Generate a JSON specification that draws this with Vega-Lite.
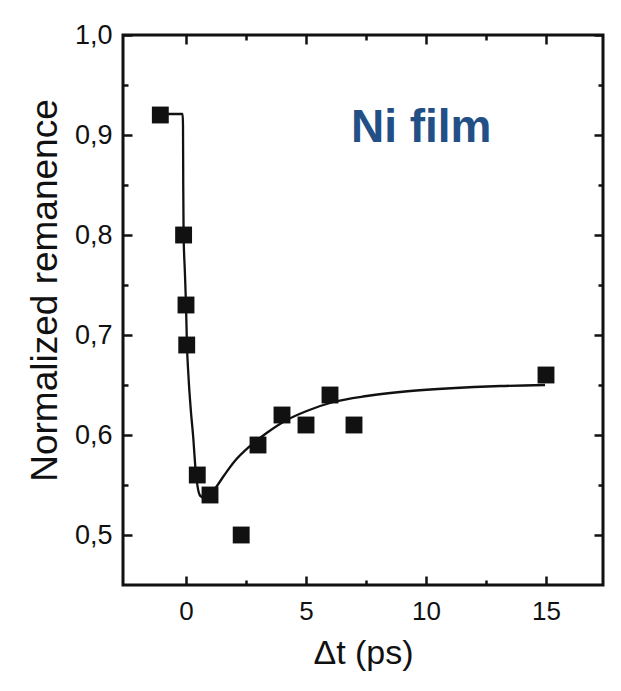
{
  "$schema": "https://vega.github.io/schema/vega-lite/v6.json",
  "width": 480,
  "height": 550,
  "autosize": {"type": "none"},
  "padding": {"left": 123, "top": 35, "right": 18, "bottom": 106},
  "background": "white",
  "config": {
    "view": {"stroke": "#111111", "strokeWidth": 3},
    "font": "Liberation Sans",
    "axis": {
      "grid": false,
      "domain": false,
      "tickColor": "#111111",
      "tickWidth": 2.5,
      "labelFont": "Liberation Sans",
      "titleFont": "Liberation Sans",
      "labelColor": "#111111",
      "titleColor": "#111111",
      "titleFontWeight": "normal"
    }
  },
  "datasets": {
    "curve": [
      {"t": -1.07, "r": 0.921},
      {"t": -0.14, "r": 0.921},
      {"t": -0.125, "r": 0.91},
      {"t": -0.115, "r": 0.85},
      {"t": -0.1, "r": 0.8},
      {"t": -0.05, "r": 0.765},
      {"t": 0.0, "r": 0.73},
      {"t": 0.04, "r": 0.69},
      {"t": 0.1, "r": 0.66},
      {"t": 0.2, "r": 0.625},
      {"t": 0.3, "r": 0.598},
      {"t": 0.4, "r": 0.565},
      {"t": 0.5, "r": 0.546},
      {"t": 0.6, "r": 0.539},
      {"t": 0.8, "r": 0.537},
      {"t": 1.0, "r": 0.54},
      {"t": 1.2, "r": 0.546},
      {"t": 1.6, "r": 0.56},
      {"t": 2.0, "r": 0.573},
      {"t": 2.67, "r": 0.589},
      {"t": 3.36, "r": 0.602},
      {"t": 4.2, "r": 0.615},
      {"t": 5.03, "r": 0.624},
      {"t": 6.14, "r": 0.633},
      {"t": 7.53, "r": 0.639},
      {"t": 8.92, "r": 0.643},
      {"t": 10.5, "r": 0.646},
      {"t": 12.0, "r": 0.648},
      {"t": 13.1, "r": 0.649},
      {"t": 14.96, "r": 0.65}
    ],
    "points": [
      {"t": -1.07, "r": 0.92},
      {"t": -0.1, "r": 0.8},
      {"t": 0.0, "r": 0.73},
      {"t": 0.03, "r": 0.69},
      {"t": 0.47, "r": 0.56},
      {"t": 1.0, "r": 0.54},
      {"t": 2.3, "r": 0.5},
      {"t": 3.0, "r": 0.59},
      {"t": 4.0, "r": 0.62},
      {"t": 5.0, "r": 0.61},
      {"t": 6.0, "r": 0.64},
      {"t": 7.0, "r": 0.61},
      {"t": 15.0, "r": 0.66}
    ],
    "label": [
      {"t": 9.8, "r": 0.893, "text": "Ni film"}
    ]
  },
  "resolve": {"axis": {"x": "independent", "y": "independent"}},
  "layer": [
    {
      "data": {"name": "curve"},
      "mark": {"type": "line", "color": "#111111", "strokeWidth": 2.3, "interpolate": "monotone"},
      "encoding": {
        "x": {
          "field": "t", "type": "quantitative",
          "scale": {"domain": [-2.625, 17.375], "nice": false, "zero": false},
          "axis": {
            "orient": "bottom", "values": [0, 5, 10, 15], "tickSize": -9,
            "labelFontSize": 26, "labelPadding": 22, "labelBaseline": "top",
            "title": "Δt (ps)", "titleFontSize": 34, "titlePadding": 12
          }
        },
        "y": {
          "field": "r", "type": "quantitative",
          "scale": {"domain": [0.45, 1.0], "nice": false, "zero": false},
          "axis": {
            "orient": "left", "values": [0.5, 0.6, 0.7, 0.8, 0.9, 1.0], "tickSize": -9,
            "labelExpr": "replace(format(datum.value, '.1f'), '.', ',')",
            "labelFontSize": 27, "labelPadding": 20,
            "title": "Normalized remanence", "titleFontSize": 37, "titlePadding": 10,
            "titleY": 255
          }
        }
      }
    },
    {
      "data": {"name": "points"},
      "mark": {"type": "point", "shape": "square", "filled": true, "color": "#111111", "opacity": 1, "size": 285},
      "encoding": {
        "x": {
          "field": "t", "type": "quantitative",
          "axis": {"orient": "top", "values": [0, 5, 10, 15], "tickSize": -9, "labels": false, "title": null}
        },
        "y": {
          "field": "r", "type": "quantitative",
          "axis": {"orient": "right", "values": [0.5, 0.6, 0.7, 0.8, 0.9, 1.0], "tickSize": -9, "labels": false, "title": null}
        }
      }
    },
    {
      "data": {"name": "label"},
      "mark": {"type": "text", "font": "Liberation Sans", "fontWeight": "bold", "fontSize": 46, "color": "#224f86", "align": "center", "baseline": "alphabetic"},
      "encoding": {
        "x": {
          "field": "t", "type": "quantitative",
          "axis": {"orient": "bottom", "values": [2.5, 7.5, 12.5], "tickSize": -5, "labels": false, "title": null}
        },
        "y": {
          "field": "r", "type": "quantitative",
          "axis": {"orient": "left", "values": [0.55, 0.65, 0.75, 0.85, 0.95], "tickSize": -5, "labels": false, "title": null}
        },
        "text": {"field": "text"}
      }
    },
    {
      "data": {"name": "points"},
      "mark": {"type": "point", "opacity": 0},
      "encoding": {
        "x": {
          "field": "t", "type": "quantitative",
          "axis": {"orient": "top", "values": [2.5, 7.5, 12.5], "tickSize": -5, "labels": false, "title": null}
        },
        "y": {
          "field": "r", "type": "quantitative",
          "axis": {"orient": "right", "values": [0.55, 0.65, 0.75, 0.85, 0.95], "tickSize": -5, "labels": false, "title": null}
        }
      }
    }
  ]
}
